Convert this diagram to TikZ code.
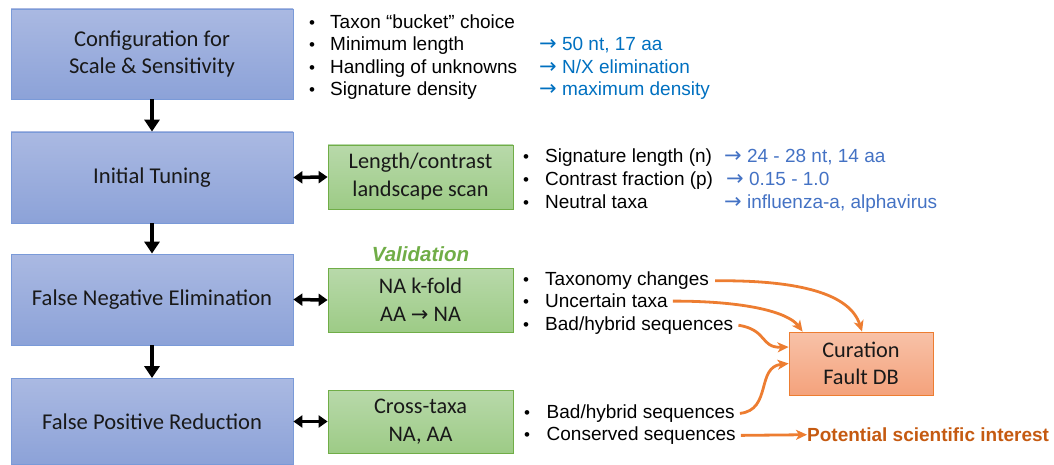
\documentclass[tikz,border=0pt]{standalone}
\usepackage{fontspec}
\setmainfont{Liberation Sans}
\newfontfamily\carl{Carlito}
\newfontfamily\arial{Liberation Sans}
\newfontfamily\djv{DejaVu Sans}
\usetikzlibrary{arrows.meta}
\definecolor{bluetop}{HTML}{AAB9E2}
\definecolor{bluebot}{HTML}{8CA2D8}
\definecolor{blueedge}{HTML}{7A9AD8}
\definecolor{greentop}{HTML}{B8D9AA}
\definecolor{greenbot}{HTML}{9DCB86}
\definecolor{greenedge}{HTML}{70AD47}
\definecolor{salmtop}{HTML}{F8C2A8}
\definecolor{salmbot}{HTML}{F4A27C}
\definecolor{orangeedge}{HTML}{ED7D31}
\definecolor{arrorange}{HTML}{ED7D31}
\definecolor{potorange}{HTML}{C55A11}
\definecolor{noteblue}{HTML}{0070C0}
\definecolor{noteblueb}{HTML}{4472C4}
\definecolor{valgreen}{HTML}{70AD47}
\newcommand{\ra}{{\djv\fontsize{21}{20}\selectfont →}}
\begin{document}
\begin{tikzpicture}[x=1pt,y=-1pt,
  bluebox/.style={draw=blueedge, line width=0.8pt, top color=bluetop, bottom color=bluebot,
    minimum width=282pt, inner sep=0pt, align=center, text=black!90,
    font=\carl\fontsize{22.6}{27}\selectfont},
  greenbox/.style={draw=greenedge, line width=0.8pt, top color=greentop, bottom color=greenbot,
    minimum width=185pt, minimum height=64pt, inner sep=0pt, align=center, text=black!90,
    font=\carl\fontsize{22.3}{28}\selectfont},
  curbox/.style={draw=orangeedge, line width=0.8pt, top color=salmtop, bottom color=salmbot,
    minimum width=144pt, minimum height=63pt, inner sep=0pt, align=center, text=black!90,
    font=\carl\fontsize{22.3}{27}\selectfont},
  txt/.style={anchor=base west, inner sep=0pt, font=\arial\fontsize{19}{22}\selectfont},
  bul/.style={anchor=base west, inner sep=0pt, font=\arial\fontsize{17}{22}\selectfont},
  note/.style={txt, text=noteblue},
  noteb/.style={txt, text=noteblueb},
  downarrow/.style={line width=4pt, -{Triangle[width=15pt,length=12pt]}},
  dblarrow/.style={line width=3.5pt, {Triangle[width=12pt,length=9pt]}-{Triangle[width=12pt,length=9pt]}},
  orarrow/.style={draw=arrorange, line width=2.8pt, -{Stealth[length=11pt,width=10pt,inset=3pt]}}
]
\useasboundingbox (0,0) rectangle (1054,465);

% main column
\node[bluebox, minimum height=90pt] (b1) at (152,54) {Configuration for\\Scale \& Sensitivity};
\node[bluebox, minimum height=91pt] (b2) at (152,177.5) {Initial Tuning};
\node[bluebox, minimum height=91pt] (b3) at (152,299.5) {False Negative Elimination};
\node[bluebox, minimum height=86pt] (b4) at (152,421.5) {False Positive Reduction};

\draw[downarrow] (b1.south) -- (b2.north);
\draw[downarrow] (b2.south) -- (b3.north);
\draw[downarrow] (b3.south) -- (b4.north);

% green boxes
\node[greenbox] (g1) at (420.5,177) {Length/contrast\\landscape scan};
\node[greenbox] (g2) at (420.5,300) {NA k-fold\\AA \ra{} NA};
\node[greenbox, minimum height=63pt] (g3) at (420.5,421.5) {Cross-taxa\\NA, AA};

\draw[dblarrow] (b2.east) -- (g1.west);
\draw[dblarrow] (b3.east) -- (g2.west);
\draw[dblarrow] (b4.east) -- (g3.west);

\node[anchor=base, inner sep=0pt, text=valgreen, font=\arial\fontsize{20.5}{22}\selectfont\bfseries\itshape] (val) at (420.5,261.5) {Validation};

% row 1 list
\node[bul] (p11) at (309,28.5) {•};
\node[txt] (t11) at (330,28.5) {Taxon “bucket” choice};
\node[bul] (p12) at (309,51) {•};
\node[txt] (t12) at (330,51) {Minimum length};
\node[note] (n12) at (539,51) {\ra{} 50 nt, 17 aa};
\node[bul] (p13) at (309,73.5) {•};
\node[txt] (t13) at (330,73.5) {Handling of unknowns};
\node[note] (n13) at (539,73.5) {\ra{} N/X elimination};
\node[bul] (p14) at (309,96) {•};
\node[txt] (t14) at (330,96) {Signature density};
\node[note] (n14) at (539,96) {\ra{} maximum density};

% row 2 list
\node[bul] (p21) at (523,162.7) {•};
\node[txt] (t21) at (545,162.7) {Signature length (n)};
\node[noteb] (n21) at (724,162.7) {\ra{} 24 - 28 nt, 14 aa};
\node[bul] (p22) at (523,185.5) {•};
\node[txt] (t22) at (545,185.5) {Contrast fraction (p)};
\node[noteb] (n22) at (726,185.5) {\ra{} 0.15 - 1.0};
\node[bul] (p23) at (523,208.3) {•};
\node[txt] (t23) at (545,208.3) {Neutral taxa};
\node[noteb] (n23) at (724,208.3) {\ra{} influenza-a, alphavirus};

% row 3 list
\node[bul] (p31) at (523,285.7) {•};
\node[txt] (t31) at (545,285.7) {Taxonomy changes};
\node[bul] (p32) at (523,307.9) {•};
\node[txt] (t32) at (545,307.9) {Uncertain taxa};
\node[bul] (p33) at (523,330.1) {•};
\node[txt] (t33) at (545,330.1) {Bad/hybrid sequences};

% row 4 list
\node[bul] (p41) at (524,418.3) {•};
\node[txt] (t41) at (546.5,418.3) {Bad/hybrid sequences};
\node[bul] (p42) at (524,440.3) {•};
\node[txt] (t42) at (546.5,440.3) {Conserved sequences};

% curation box
\node[curbox] (cur) at (861,363.5) {Curation\\Fault DB};

\node[txt, text=potorange, font=\arial\fontsize{19}{22}\selectfont\bfseries] (pot) at (807,441.5) {Potential scientific interest};

% orange connectors
\draw[orarrow] ([xshift=6pt]t31.east) .. controls (800,280) and (850,294) .. ([xshift=1pt]cur.north);
\draw[orarrow] ([xshift=5pt]t32.east) .. controls (745,301) and (788,312) .. ([xshift=14pt]cur.north west);
\draw[orarrow] ([xshift=5pt]t33.east) .. controls (768,330) and (760,348) .. ([yshift=16.5pt]cur.west);
\draw[orarrow] ([xshift=5pt]t41.east) .. controls (772,410) and (756,367) .. (cur.west);
\draw[orarrow] ([xshift=5pt]t42.east) -- (pot.west);
\end{tikzpicture}
\end{document}
